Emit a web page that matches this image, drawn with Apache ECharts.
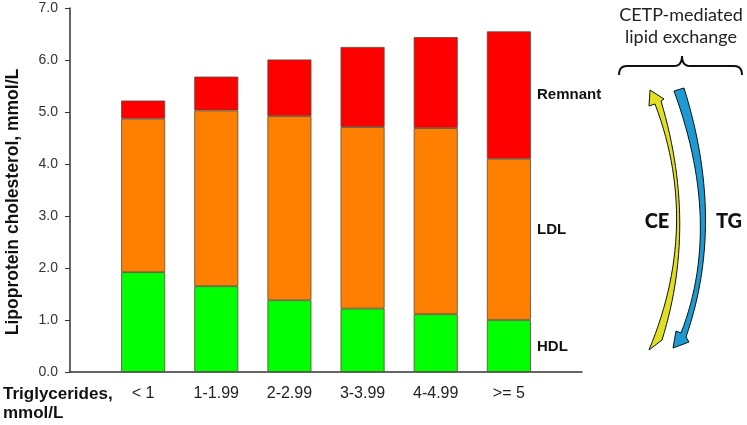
<!DOCTYPE html>
<html>
<head>
<meta charset="utf-8">
<script src="https://cdn.jsdelivr.net/npm/echarts@6/dist/echarts.min.js"></script>
<style>html,body{margin:0;padding:0;background:#fff;}#c{width:747px;height:425px;}</style>
</head>
<body>
<div id="c"></div>
<script>
var categories = ['< 1', '1-1.99', '2-2.99', '3-3.99', '4-4.99', '>= 5'];
var hdl = [1.92, 1.65, 1.38, 1.22, 1.11, 1.00];
var ldl = [2.95, 3.38, 3.54, 3.49, 3.58, 3.10];
var remnant = [0.35, 0.65, 1.09, 1.54, 1.75, 2.45];
var yTicks = [0, 1, 2, 3, 4, 5, 6, 7];

var FONT = '"Liberation Sans", Arial, sans-serif';
var FONT2 = 'Lato, "Open Sans", sans-serif';
function pad(arr, v) { return [v].concat(arr, [v]); }

// sample a quadratic curve (decoration shapes only)
function quad(p0, c, p1, n) {
  var pts = [];
  for (var i = 0; i <= n; i++) {
    var t = i / n, a = (1 - t) * (1 - t), b = 2 * t * (1 - t), d = t * t;
    pts.push([a * p0[0] + b * c[0] + d * p1[0], a * p0[1] + b * c[1] + d * p1[1]]);
  }
  return pts;
}

var yellowPts = [].concat(
  quad([649, 350], [701, 225], [655, 104], 30),
  [[649, 106], [650, 90], [664, 99]],
  quad([661, 101], [698, 225], [662, 340], 30)
);
var bluePts = [].concat(
  quad([674, 91], [723, 225], [681, 333], 30),
  [[676, 331], [673, 348], [689, 342]],
  quad([686, 337], [726, 222], [684, 88], 30)
);
var bracePts = [].concat(
  quad([619, 75], [619, 66], [627, 66], 6),
  quad([674, 66], [682, 66], [682, 56], 6),
  quad([682, 56], [682, 66], [690, 66], 6),
  quad([734, 66], [742, 66], [742, 75], 6)
);

var chart = echarts.init(document.getElementById('c'), null, {renderer: 'canvas'});
var border = {borderColor: '#5b4a3a', borderWidth: 0.8};

var option = {
  animation: false,
  backgroundColor: '#fff',
  grid: {left: 70, right: 165, top: 8, bottom: 53},
  xAxis: {
    type: 'category',
    data: pad(categories, ''),
    boundaryGap: false,
    axisLine: {lineStyle: {color: '#333', width: 1.5}},
    axisTick: {show: false},
    axisLabel: {interval: 0, fontSize: 16, color: '#222', fontFamily: FONT, margin: 14}
  },
  yAxis: {
    type: 'value',
    min: yTicks[0],
    max: yTicks[yTicks.length - 1],
    interval: 1,
    splitLine: {show: false},
    axisLine: {show: true, lineStyle: {color: '#333', width: 1.5}},
    axisTick: {show: true, inside: false, length: 5, lineStyle: {color: '#333'}},
    axisLabel: {fontSize: 14, color: '#333', fontFamily: FONT, margin: 12,
      formatter: function (v) { return v.toFixed(1); }}
  },
  series: [
    {name: 'HDL', type: 'bar', stack: 'total', barWidth: 44, data: pad(hdl, '-'),
      itemStyle: Object.assign({color: '#00FF00'}, border)},
    {name: 'LDL', type: 'bar', stack: 'total', barWidth: 44, data: pad(ldl, '-'),
      itemStyle: Object.assign({color: '#FF8000'}, border)},
    {name: 'Remnant', type: 'bar', stack: 'total', barWidth: 44, data: pad(remnant, '-'),
      itemStyle: Object.assign({color: '#FF0000'}, border)}
  ],
  graphic: [
    {type: 'text', x: 13, y: 202, rotation: Math.PI / 2,
      style: {text: 'Lipoprotein cholesterol, mmol/L', fontSize: 17.5, fontWeight: 'bold', fontFamily: FONT,
        fill: '#111', align: 'center', verticalAlign: 'middle'}},
    {type: 'text', x: 3, y: 394,
      style: {text: 'Triglycerides,', fontSize: 17, fontWeight: 'bold', fontFamily: FONT, fill: '#111',
        align: 'left', verticalAlign: 'middle'}},
    {type: 'text', x: 3, y: 413,
      style: {text: 'mmol/L', fontSize: 17, fontWeight: 'bold', fontFamily: FONT, fill: '#111',
        align: 'left', verticalAlign: 'middle'}},
    {type: 'text', x: 537, y: 95,
      style: {text: 'Remnant', fontSize: 15, fontWeight: 'bold', fontFamily: FONT, fill: '#111',
        align: 'left', verticalAlign: 'middle'}},
    {type: 'text', x: 537, y: 230,
      style: {text: 'LDL', fontSize: 15, fontWeight: 'bold', fontFamily: FONT, fill: '#111',
        align: 'left', verticalAlign: 'middle'}},
    {type: 'text', x: 537, y: 347,
      style: {text: 'HDL', fontSize: 15, fontWeight: 'bold', fontFamily: FONT, fill: '#111',
        align: 'left', verticalAlign: 'middle'}},
    {type: 'text', x: 681, y: 15,
      style: {text: 'CETP-mediated', fontSize: 18, fontFamily: FONT2, fill: '#222',
        align: 'center', verticalAlign: 'middle'}},
    {type: 'text', x: 681, y: 37,
      style: {text: 'lipid exchange', fontSize: 18, fontFamily: FONT2, fill: '#222',
        align: 'center', verticalAlign: 'middle'}},
    {type: 'polyline', shape: {points: bracePts},
      style: {fill: 'none', stroke: '#111', lineWidth: 2}},
    {type: 'polygon', shape: {points: yellowPts},
      style: {fill: '#E0E020', stroke: '#111', lineWidth: 1}},
    {type: 'polygon', shape: {points: bluePts},
      style: {fill: '#1E9AD2', stroke: '#111', lineWidth: 1}},
    {type: 'text', x: 657, y: 222,
      style: {text: 'CE', fontSize: 20, fontWeight: 900, fontFamily: FONT2, fill: '#111',
        align: 'center', verticalAlign: 'middle'}},
    {type: 'text', x: 729, y: 222,
      style: {text: 'TG', fontSize: 20, fontWeight: 900, fontFamily: FONT2, fill: '#111',
        align: 'center', verticalAlign: 'middle'}}
  ]
};
chart.setOption(option);
</script>
</body>
</html>
